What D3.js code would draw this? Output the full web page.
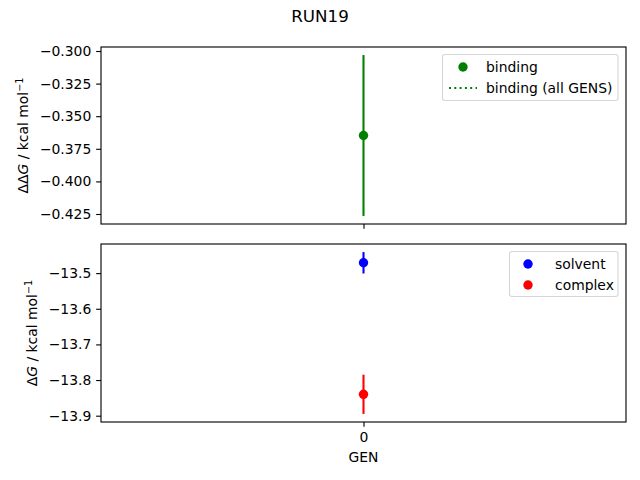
<!DOCTYPE html>
<html>
<head>
<meta charset="utf-8">
<script src="https://cdn.jsdelivr.net/npm/d3@7"></script>
<style>
  body { margin: 0; background: #fff; }
  text { font-family: "DejaVu Sans", sans-serif; }
</style>
</head>
<body>
<div id="chart"></div>
<script>
// data
const gens = [0];
const bindingVals = [-0.3648];
const bindingErrs = [0.0617];
const solventVals = [-13.471];
const solventErrs = [0.030];
const complexVals = [-13.840];
const complexErrs = [0.055];
const topTicks = [-0.300, -0.325, -0.350, -0.375, -0.400, -0.425];
const bottomTicks = [-13.5, -13.6, -13.7, -13.8, -13.9];

const width = 640, height = 480;
const left = 101, right = 626;
const topPanel = { y0: 47, y1: 224 };
const botPanel = { y0: 244, y1: 422 };
const pt = 100 / 72; // matplotlib points -> px
const dotR = 4.7;

const svg = d3.select("#chart").append("svg")
  .attr("width", width).attr("height", height);

svg.append("text")
  .attr("x", 320).attr("y", 22)
  .attr("text-anchor", "middle")
  .style("font-size", "16.7px")
  .text("RUN19");

const x = d3.scaleLinear().domain([-0.055, 0.055]).range([left, right]);

// pad y domain like matplotlib (5% margins)
function padded(series) {
  let lo = Infinity, hi = -Infinity;
  series.forEach(s => s.vals.forEach((v, i) => {
    lo = Math.min(lo, v - s.errs[i]);
    hi = Math.max(hi, v + s.errs[i]);
  }));
  const m = (hi - lo) * 0.05;
  return [lo - m, hi + m];
}

function panel(p, series, ticks, fmt, showX) {
  const y = d3.scaleLinear().domain(padded(series)).range([p.y1, p.y0]);
  const g = svg.append("g");

  series.forEach(s => {
    s.vals.forEach((v, i) => {
      g.append("line")
        .attr("x1", x(gens[i])).attr("x2", x(gens[i]))
        .attr("y1", y(v - s.errs[i])).attr("y2", y(v + s.errs[i]))
        .attr("stroke", s.color).attr("stroke-width", 1.5 * pt);
      g.append("circle")
        .attr("cx", x(gens[i])).attr("cy", y(v))
        .attr("r", dotR).attr("fill", s.color);
    });
  });

  const ya = g.append("g")
    .attr("transform", `translate(${left},0)`)
    .call(d3.axisLeft(y).tickValues(ticks).tickFormat(d => fmt(d).replace("-", "\u2212")).tickSize(3.5 * pt).tickPadding(3.5 * pt));
  ya.select(".domain").remove();
  ya.selectAll("text").style("font-size", "13.9px").attr("fill", "#000");
  ya.selectAll("line").attr("stroke", "#000").attr("stroke-width", 0.8 * pt);

  const xa = g.append("g")
    .attr("transform", `translate(0,${p.y1})`)
    .call(d3.axisBottom(x).tickValues(gens).tickFormat(showX ? d3.format("d") : "").tickSize(3.5 * pt).tickPadding(3.5 * pt));
  xa.select(".domain").remove();
  xa.selectAll("text").style("font-size", "13.9px").attr("fill", "#000");
  xa.selectAll("line").attr("stroke", "#000").attr("stroke-width", 0.8 * pt);

  g.append("rect")
    .attr("x", left).attr("y", p.y0)
    .attr("width", right - left).attr("height", p.y1 - p.y0)
    .attr("fill", "none").attr("stroke", "#000").attr("stroke-width", 0.8 * pt);
  return g;
}

panel(topPanel, [{ vals: bindingVals, errs: bindingErrs, color: "green" }],
  topTicks, d3.format(".3f"), false);
panel(botPanel, [
  { vals: solventVals, errs: solventErrs, color: "blue" },
  { vals: complexVals, errs: complexErrs, color: "red" }
], bottomTicks, d3.format(".1f"), true);

// y labels
function ylabel(cx, cy, parts) {
  const t = svg.append("text")
    .attr("transform", `translate(${cx},${cy}) rotate(-90)`)
    .attr("text-anchor", "middle")
    .style("font-size", "13.9px");
  parts.forEach(p => {
    const ts = t.append("tspan").text(p.t);
    if (p.i) ts.style("font-style", "italic");
    if (p.sup) ts.attr("baseline-shift", "super").style("font-size", "9.7px");
  });
}
ylabel(28, (topPanel.y0 + topPanel.y1) / 2, [
  { t: "\u0394\u0394" }, { t: "G", i: true }, { t: " / kcal mol" }, { t: "\u22121", sup: true }
]);
ylabel(37, (botPanel.y0 + botPanel.y1) / 2, [
  { t: "\u0394" }, { t: "G", i: true }, { t: " / kcal mol" }, { t: "\u22121", sup: true }
]);

svg.append("text")
  .attr("x", x(0)).attr("y", 462)
  .attr("text-anchor", "middle")
  .style("font-size", "13.9px")
  .text("GEN");

// legends
function legend(bx, by, bw, bh, items) {
  svg.append("rect")
    .attr("x", bx).attr("y", by).attr("width", bw).attr("height", bh)
    .attr("rx", 2.5).attr("fill", "#fff").attr("fill-opacity", 0.8)
    .attr("stroke", "#d6d6d6").attr("stroke-width", 0.8 * pt);
  items.forEach((it, i) => {
    const cy = by + 12.5 + i * 21;
    if (it.kind === "dot") {
      svg.append("circle").attr("cx", it.mx).attr("cy", cy).attr("r", dotR).attr("fill", it.color);
    } else {
      svg.append("line").attr("x1", it.mx - 14).attr("x2", it.mx + 14)
        .attr("y1", cy).attr("y2", cy)
        .attr("stroke", it.color).attr("stroke-width", 1.5 * pt).attr("stroke-dasharray", "2,3.3");
    }
    svg.append("text").attr("x", it.tx).attr("y", cy + 5)
      .style("font-size", "13.9px").text(it.label);
  });
}
legend(442.5, 54.5, 175.5, 46, [
  { kind: "dot", color: "green", label: "binding", mx: 463, tx: 486 },
  { kind: "line", color: "green", label: "binding (all GENS)", mx: 463, tx: 486 }
]);
legend(509.5, 251.5, 108.5, 45, [
  { kind: "dot", color: "blue", label: "solvent", mx: 528, tx: 555 },
  { kind: "dot", color: "red", label: "complex", mx: 528, tx: 555 }
]);
</script>
</body>
</html>
